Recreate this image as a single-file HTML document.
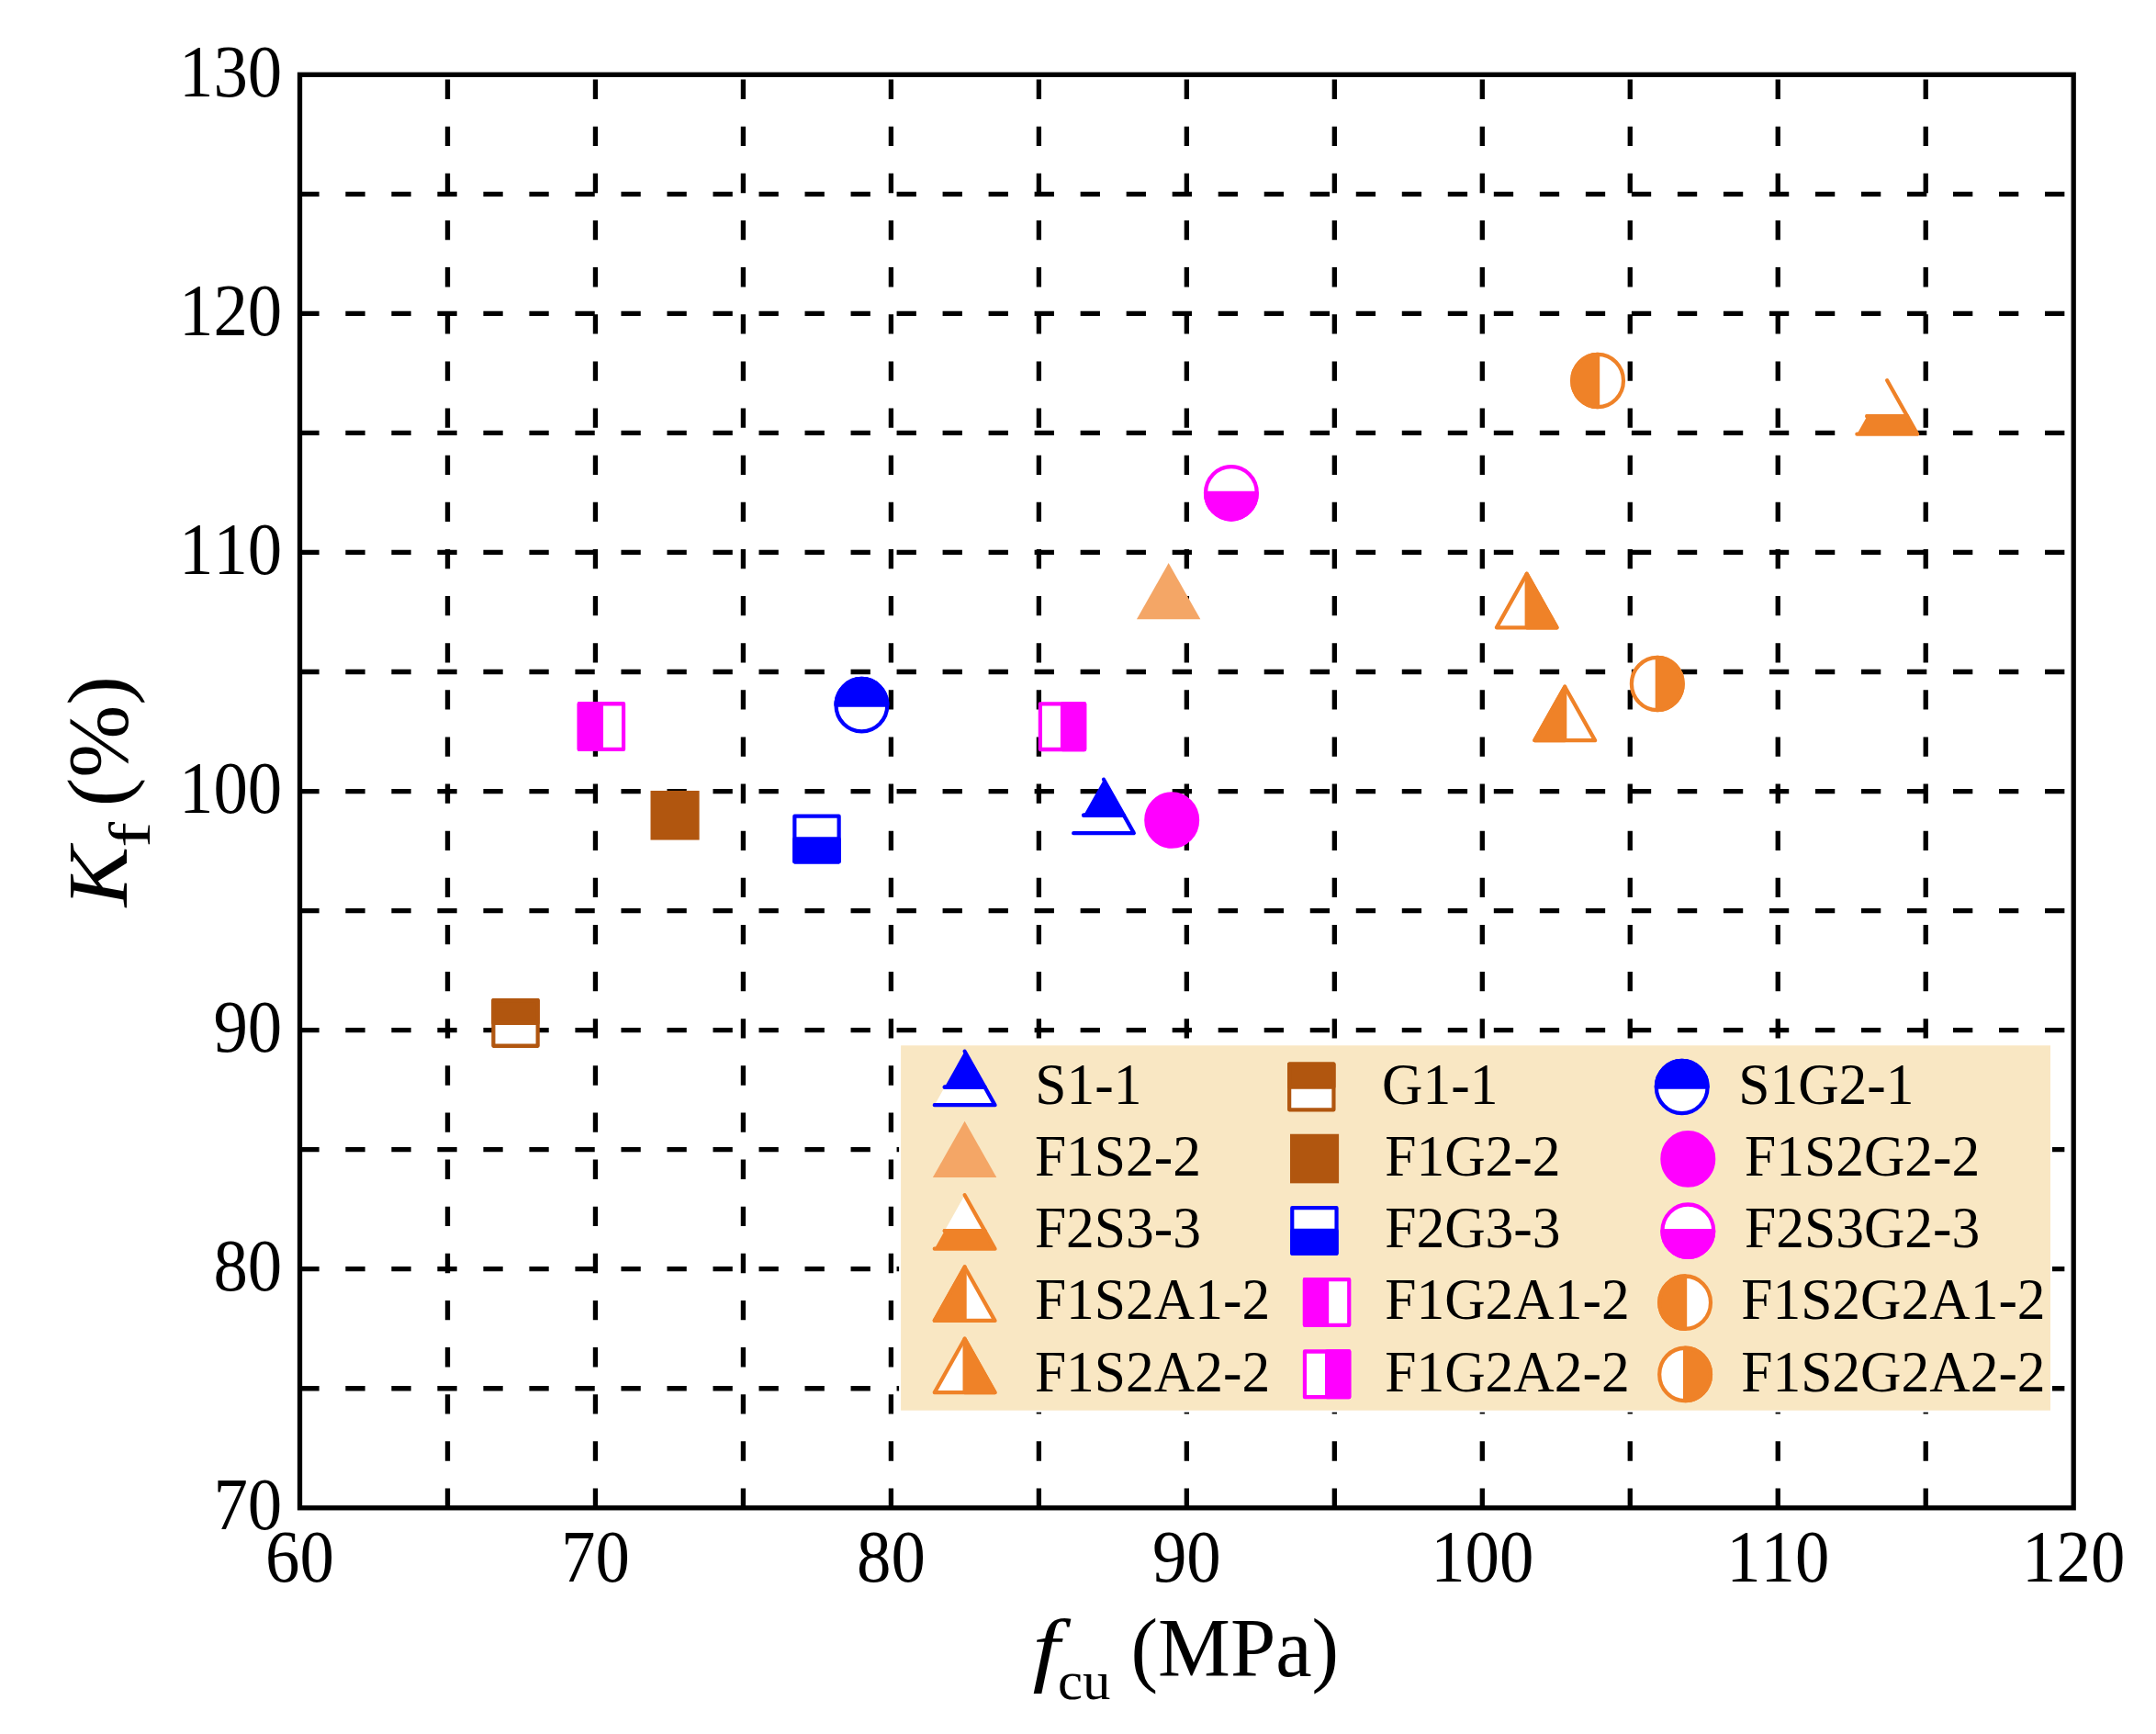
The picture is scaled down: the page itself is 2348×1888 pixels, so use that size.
<!DOCTYPE html>
<html lang="en"><head><meta charset="utf-8"><title>Kf vs fcu</title>
<style>html,body{margin:0;padding:0;background:#fff;}svg{display:block;}text{font-family:"Liberation Serif",serif;fill:#000;font-kerning:none;}</style></head><body>
<svg width="2348" height="1888" viewBox="0 0 2348 1888">
<rect x="0" y="0" width="2348" height="1888" fill="#fff"/>
<g stroke="#000" stroke-width="5.3" fill="none">
<line x1="326.30" y1="1511.76" x2="2258.20" y2="1511.76" stroke-dasharray="21.3 28.72"/>
<line x1="326.30" y1="1381.72" x2="2258.20" y2="1381.72" stroke-dasharray="21.3 28.72"/>
<line x1="326.30" y1="1251.67" x2="2258.20" y2="1251.67" stroke-dasharray="21.3 28.72"/>
<line x1="326.30" y1="1121.63" x2="2258.20" y2="1121.63" stroke-dasharray="21.3 28.72"/>
<line x1="326.30" y1="991.59" x2="2258.20" y2="991.59" stroke-dasharray="21.3 28.72"/>
<line x1="326.30" y1="861.55" x2="2258.20" y2="861.55" stroke-dasharray="21.3 28.72"/>
<line x1="326.30" y1="731.51" x2="2258.20" y2="731.51" stroke-dasharray="21.3 28.72"/>
<line x1="326.30" y1="601.47" x2="2258.20" y2="601.47" stroke-dasharray="21.3 28.72"/>
<line x1="326.30" y1="471.42" x2="2258.20" y2="471.42" stroke-dasharray="21.3 28.72"/>
<line x1="326.30" y1="341.38" x2="2258.20" y2="341.38" stroke-dasharray="21.3 28.72"/>
<line x1="326.30" y1="211.34" x2="2258.20" y2="211.34" stroke-dasharray="21.3 28.72"/>
<line x1="487.48" y1="1641.80" x2="487.48" y2="81.30" stroke-dasharray="21.3 29.83"/>
<line x1="648.45" y1="1641.80" x2="648.45" y2="81.30" stroke-dasharray="21.3 29.83"/>
<line x1="809.42" y1="1641.80" x2="809.42" y2="81.30" stroke-dasharray="21.3 29.83"/>
<line x1="970.40" y1="1641.80" x2="970.40" y2="81.30" stroke-dasharray="21.3 29.83"/>
<line x1="1131.38" y1="1641.80" x2="1131.38" y2="81.30" stroke-dasharray="21.3 29.83"/>
<line x1="1292.35" y1="1641.80" x2="1292.35" y2="81.30" stroke-dasharray="21.3 29.83"/>
<line x1="1453.33" y1="1641.80" x2="1453.33" y2="81.30" stroke-dasharray="21.3 29.83"/>
<line x1="1614.30" y1="1641.80" x2="1614.30" y2="81.30" stroke-dasharray="21.3 29.83"/>
<line x1="1775.27" y1="1641.80" x2="1775.27" y2="81.30" stroke-dasharray="21.3 29.83"/>
<line x1="1936.25" y1="1641.80" x2="1936.25" y2="81.30" stroke-dasharray="21.3 29.83"/>
<line x1="2097.22" y1="1641.80" x2="2097.22" y2="81.30" stroke-dasharray="21.3 29.83"/>
</g>
<g id="data">
<g transform="translate(561.50,1113.90) scale(1,1.028)" stroke="#B1560F" stroke-width="4.2" stroke-linejoin="round"><rect x="-24.15" y="-24.15" width="48.3" height="48.3" fill="#fff"/><rect x="-24.15" y="-24.15" width="48.3" height="24.15" fill="#B1560F"/></g>
<g transform="translate(654.90,791.10) scale(1,1.028)" stroke="#FF00FF" stroke-width="4.2" stroke-linejoin="round"><rect x="-24.15" y="-24.15" width="48.3" height="48.3" fill="#fff"/><rect x="-24.15" y="-24.15" width="24.15" height="48.3" fill="#FF00FF"/></g>
<g transform="translate(735.05,887.75) scale(1,1.028)" stroke="#B1560F" stroke-width="4.2" stroke-linejoin="round"><rect x="-26.55" y="-26.07" width="53.1" height="52.14" fill="#B1560F" stroke="none"/></g>
<g transform="translate(889.50,913.50) scale(1,1.028)" stroke="#0000FF" stroke-width="4.2" stroke-linejoin="round"><rect x="-24.15" y="-24.15" width="48.3" height="48.3" fill="#fff"/><rect x="-24.15" y="0" width="48.3" height="24.15" fill="#0000FF"/></g>
<g transform="translate(938.40,767.70) scale(1,1.028)" stroke="#0000FF" stroke-width="4.2" stroke-linejoin="round"><circle r="27.9" fill="#fff"/><path d="M-27.9,0 A27.9,27.9 0 0 1 27.9,0 Z" fill="#0000FF"/></g>
<g transform="translate(1157.00,791.20) scale(1,1.028)" stroke="#FF00FF" stroke-width="4.2" stroke-linejoin="round"><rect x="-24.15" y="-24.15" width="48.3" height="48.3" fill="#fff"/><rect x="0" y="-24.15" width="24.15" height="48.3" fill="#FF00FF"/></g>
<g transform="translate(1202.00,887.70) scale(1,1.028)" stroke="#0000FF" stroke-width="4.2" stroke-linejoin="round" stroke-linecap="round"><path d="M-21.90,0 L21.90,0 L32.85,18.97 L-32.85,18.97" fill="#fff"/><path d="M-21.90,0 L21.90,0 L0,-37.93" fill="#0000FF"/></g>
<g transform="translate(1276.20,893.00) scale(1,1.028)" stroke="#FF00FF" stroke-width="4.2" stroke-linejoin="round"><circle r="27.9" fill="#FF00FF"/></g>
<g transform="translate(1272.65,654.80) scale(1,1.028)" stroke="#F4A666" stroke-width="4.2" stroke-linejoin="round" stroke-linecap="round"><path d="M0,-40.57 L34.7,18.97 L-34.7,18.97 Z" fill="#F4A666" stroke="none"/></g>
<g transform="translate(1340.90,536.80) scale(1,1.028)" stroke="#FF00FF" stroke-width="4.2" stroke-linejoin="round"><circle r="27.9" fill="#fff"/><path d="M-27.9,0 A27.9,27.9 0 0 0 27.9,0 Z" fill="#FF00FF"/></g>
<g transform="translate(1662.70,663.80) scale(1,1.028)" stroke="#EF8228" stroke-width="4.2" stroke-linejoin="round" stroke-linecap="round"><path d="M0,-37.93 L32.85,18.97 L-32.85,18.97 Z" fill="#fff"/><path d="M0,-37.93 L0,18.97 L32.85,18.97 Z" fill="#EF8228"/></g>
<g transform="translate(1704.20,786.70) scale(1,1.028)" stroke="#EF8228" stroke-width="4.2" stroke-linejoin="round" stroke-linecap="round"><path d="M0,-37.93 L32.85,18.97 L-32.85,18.97 Z" fill="#fff"/><path d="M0,-37.93 L0,18.97 L-32.85,18.97 Z" fill="#EF8228"/></g>
<g transform="translate(1740.10,414.50) scale(1,1.028)" stroke="#EF8228" stroke-width="4.2" stroke-linejoin="round"><circle r="27.9" fill="#fff"/><path d="M0,-27.9 A27.9,27.9 0 0 0 0,27.9 Z" fill="#EF8228"/></g>
<g transform="translate(1804.80,744.50) scale(1,1.028)" stroke="#EF8228" stroke-width="4.2" stroke-linejoin="round"><circle r="27.9" fill="#fff"/><path d="M0,-27.9 A27.9,27.9 0 0 1 0,27.9 Z" fill="#EF8228"/></g>
<g transform="translate(2055.20,453.20) scale(1,1.028)" stroke="#EF8228" stroke-width="4.2" stroke-linejoin="round" stroke-linecap="round"><path d="M-21.90,0 L21.90,0 L0,-37.93" fill="#fff"/><path d="M-21.90,0 L21.90,0 L32.85,18.97 L-32.85,18.97" fill="#EF8228"/></g>
</g>
<rect x="979.1" y="1136.3" width="1255.90" height="401.40" fill="#fff"/>
<rect x="981.1" y="1138.3" width="1251.90" height="397.40" fill="#F9E7C3"/>
<g id="legend">
<g transform="translate(1050.60,1183.70) scale(1,1.028)" stroke="#0000FF" stroke-width="4.2" stroke-linejoin="round" stroke-linecap="round"><path d="M-21.90,0 L21.90,0 L32.85,18.97 L-32.85,18.97" fill="#fff"/><path d="M-21.90,0 L21.90,0 L0,-37.93" fill="#0000FF"/></g>
<g transform="translate(1050.60,1262.50) scale(1,1.028)" stroke="#F4A666" stroke-width="4.2" stroke-linejoin="round" stroke-linecap="round"><path d="M0,-40.57 L34.7,18.97 L-34.7,18.97 Z" fill="#F4A666" stroke="none"/></g>
<g transform="translate(1050.60,1340.20) scale(1,1.028)" stroke="#EF8228" stroke-width="4.2" stroke-linejoin="round" stroke-linecap="round"><path d="M-21.90,0 L21.90,0 L0,-37.93" fill="#fff"/><path d="M-21.90,0 L21.90,0 L32.85,18.97 L-32.85,18.97" fill="#EF8228"/></g>
<g transform="translate(1050.60,1418.45) scale(1,1.028)" stroke="#EF8228" stroke-width="4.2" stroke-linejoin="round" stroke-linecap="round"><path d="M0,-37.93 L32.85,18.97 L-32.85,18.97 Z" fill="#fff"/><path d="M0,-37.93 L0,18.97 L-32.85,18.97 Z" fill="#EF8228"/></g>
<g transform="translate(1050.60,1496.70) scale(1,1.028)" stroke="#EF8228" stroke-width="4.2" stroke-linejoin="round" stroke-linecap="round"><path d="M0,-37.93 L32.85,18.97 L-32.85,18.97 Z" fill="#fff"/><path d="M0,-37.93 L0,18.97 L32.85,18.97 Z" fill="#EF8228"/></g>
<g transform="translate(1428.30,1183.50) scale(1,1.028)" stroke="#B1560F" stroke-width="4.2" stroke-linejoin="round"><rect x="-24.15" y="-24.15" width="48.3" height="48.3" fill="#fff"/><rect x="-24.15" y="-24.15" width="48.3" height="24.15" fill="#B1560F"/></g>
<g transform="translate(1431.55,1261.55) scale(1,1.028)" stroke="#B1560F" stroke-width="4.2" stroke-linejoin="round"><rect x="-26.55" y="-26.07" width="53.1" height="52.14" fill="#B1560F" stroke="none"/></g>
<g transform="translate(1431.40,1340.00) scale(1,1.028)" stroke="#0000FF" stroke-width="4.2" stroke-linejoin="round"><rect x="-24.15" y="-24.15" width="48.3" height="48.3" fill="#fff"/><rect x="-24.15" y="0" width="48.3" height="24.15" fill="#0000FF"/></g>
<g transform="translate(1445.10,1418.00) scale(1,1.028)" stroke="#FF00FF" stroke-width="4.2" stroke-linejoin="round"><rect x="-24.15" y="-24.15" width="48.3" height="48.3" fill="#fff"/><rect x="-24.15" y="-24.15" width="24.15" height="48.3" fill="#FF00FF"/></g>
<g transform="translate(1445.10,1496.30) scale(1,1.028)" stroke="#FF00FF" stroke-width="4.2" stroke-linejoin="round"><rect x="-24.15" y="-24.15" width="48.3" height="48.3" fill="#fff"/><rect x="0" y="-24.15" width="24.15" height="48.3" fill="#FF00FF"/></g>
<g transform="translate(1831.70,1183.50) scale(1,1.028)" stroke="#0000FF" stroke-width="4.2" stroke-linejoin="round"><circle r="27.9" fill="#fff"/><path d="M-27.9,0 A27.9,27.9 0 0 1 27.9,0 Z" fill="#0000FF"/></g>
<g transform="translate(1838.30,1261.90) scale(1,1.028)" stroke="#FF00FF" stroke-width="4.2" stroke-linejoin="round"><circle r="27.9" fill="#FF00FF"/></g>
<g transform="translate(1838.30,1340.20) scale(1,1.028)" stroke="#FF00FF" stroke-width="4.2" stroke-linejoin="round"><circle r="27.9" fill="#fff"/><path d="M-27.9,0 A27.9,27.9 0 0 0 27.9,0 Z" fill="#FF00FF"/></g>
<g transform="translate(1835.10,1418.20) scale(1,1.028)" stroke="#EF8228" stroke-width="4.2" stroke-linejoin="round"><circle r="27.9" fill="#fff"/><path d="M0,-27.9 A27.9,27.9 0 0 0 0,27.9 Z" fill="#EF8228"/></g>
<g transform="translate(1835.10,1496.40) scale(1,1.028)" stroke="#EF8228" stroke-width="4.2" stroke-linejoin="round"><circle r="27.9" fill="#fff"/><path d="M0,-27.9 A27.9,27.9 0 0 1 0,27.9 Z" fill="#EF8228"/></g>
<text transform="translate(1127.30,1202.10) scale(1.0,1.024)" font-size="61.5">S1-1</text>
<text transform="translate(1126.90,1279.90) scale(1.0,1.024)" font-size="61.5">F1S2-2</text>
<text transform="translate(1126.90,1357.90) scale(1.0,1.024)" font-size="61.5">F2S3-3</text>
<text transform="translate(1126.90,1435.90) scale(1.0,1.024)" font-size="61.5">F1S2A1-2</text>
<text transform="translate(1126.90,1514.60) scale(1.0,1.024)" font-size="61.5">F1S2A2-2</text>
<text transform="translate(1505.00,1202.10) scale(1.0,1.024)" font-size="61.5">G1-1</text>
<text transform="translate(1508.20,1279.90) scale(1.0,1.024)" font-size="61.5">F1G2-2</text>
<text transform="translate(1508.20,1357.90) scale(1.0,1.024)" font-size="61.5">F2G3-3</text>
<text transform="translate(1508.20,1435.90) scale(1.0,1.024)" font-size="61.5">F1G2A1-2</text>
<text transform="translate(1508.20,1514.60) scale(1.0,1.024)" font-size="61.5">F1G2A2-2</text>
<text transform="translate(1893.20,1202.10) scale(1.0,1.024)" font-size="61.5">S1G2-1</text>
<text transform="translate(1900.00,1279.90) scale(1.0,1.024)" font-size="61.5">F1S2G2-2</text>
<text transform="translate(1900.00,1357.90) scale(1.0,1.024)" font-size="61.5">F2S3G2-3</text>
<text transform="translate(1896.20,1435.90) scale(1.0,1.024)" font-size="61.5">F1S2G2A1-2</text>
<text transform="translate(1896.20,1514.60) scale(1.0,1.024)" font-size="61.5">F1S2G2A2-2</text>
</g>
<rect x="326.5" y="81.3" width="1931.70" height="1560.50" fill="none" stroke="#000" stroke-width="5.3"/>
<g id="ticks">
<text transform="translate(307.25,1665.30) scale(1.0,1.07)" font-size="74.8" text-anchor="end">70</text>
<text transform="translate(307.25,1405.22) scale(1.0,1.07)" font-size="74.8" text-anchor="end">80</text>
<text transform="translate(307.25,1145.13) scale(1.0,1.07)" font-size="74.8" text-anchor="end">90</text>
<text transform="translate(307.25,885.05) scale(1.0,1.07)" font-size="74.8" text-anchor="end">100</text>
<text transform="translate(307.25,624.97) scale(1.0,1.07)" font-size="74.8" text-anchor="end">110</text>
<text transform="translate(307.25,364.88) scale(1.0,1.07)" font-size="74.8" text-anchor="end">120</text>
<text transform="translate(307.25,104.80) scale(1.0,1.07)" font-size="74.8" text-anchor="end">130</text>
<text transform="translate(326.50,1721.80) scale(1.0,1.07)" font-size="74.8" text-anchor="middle">60</text>
<text transform="translate(648.45,1721.80) scale(1.0,1.07)" font-size="74.8" text-anchor="middle">70</text>
<text transform="translate(970.40,1721.80) scale(1.0,1.07)" font-size="74.8" text-anchor="middle">80</text>
<text transform="translate(1292.35,1721.80) scale(1.0,1.07)" font-size="74.8" text-anchor="middle">90</text>
<text transform="translate(1614.30,1721.80) scale(1.0,1.07)" font-size="74.8" text-anchor="middle">100</text>
<text transform="translate(1936.25,1721.80) scale(1.0,1.07)" font-size="74.8" text-anchor="middle">110</text>
<text transform="translate(2258.20,1721.80) scale(1.0,1.07)" font-size="74.8" text-anchor="middle">120</text>
</g>
<g id="titles">
<text transform="translate(1124.60,1825.10) scale(1.2,1.0)" font-size="88.7" font-style="italic">f</text>
<text transform="translate(1152.00,1850.40) scale(1.04,1.024)" font-size="58.5">cu</text>
<text transform="translate(1231.50,1825.10) scale(1.0,1.024)" font-size="88.7">(MPa)</text>
<text transform="translate(138.30,987.30) rotate(-90) scale(1.04,1.0)" font-size="94.0" font-style="italic">K</text>
<text transform="translate(163.20,922.80) rotate(-90) scale(1.3,1.0)" font-size="64.0">f</text>
<text transform="translate(138.30,878.30) rotate(-90) scale(1.008,1.0)" font-size="94.0">(%)</text>
</g>
</svg></body></html>
